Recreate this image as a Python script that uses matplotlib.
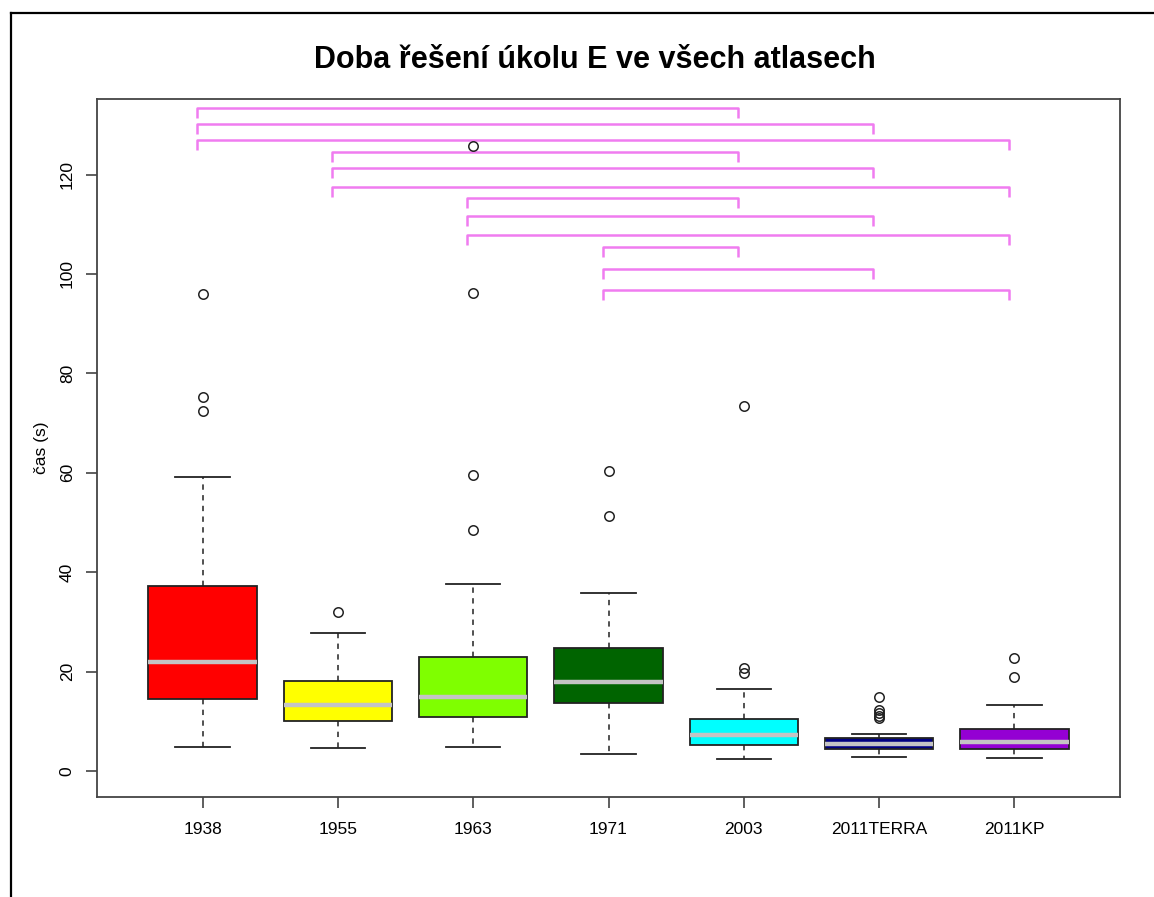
import matplotlib
matplotlib.use('Agg')
import matplotlib.pyplot as plt
from matplotlib.lines import Line2D

plt.rcParams['font.family'] = ['Liberation Sans', 'DejaVu Sans']

categories = ['1938', '1955', '1963', '1971', '2003', '2011TERRA', '2011KP']
box_colors = ['#FF0000', '#FFFF00', '#7FFF00', '#006400', '#00FFFF', '#000080', '#9400D3']
q1 = [14.5, 10.1, 10.9, 13.8, 5.2, 4.4, 4.5]
median = [22.0, 13.3, 15.0, 18.0, 7.3, 5.5, 5.9]
q3 = [37.3, 18.1, 23.0, 24.8, 10.4, 6.7, 8.5]
whisker_low = [4.9, 4.6, 4.85, 3.4, 2.4, 2.9, 2.6]
whisker_high = [59.2, 27.7, 37.6, 35.9, 16.5, 7.5, 13.4]
outliers = [
    [96.0, 75.2, 72.4],
    [32.1],
    [125.7, 96.1, 59.6, 48.6],
    [60.4, 51.3],
    [73.5, 20.8, 19.8],
    [15.0, 12.2, 11.6, 11.0, 10.6],
    [22.8, 19.0],
]
bracket_from = [1, 1, 1, 2, 2, 2, 3, 3, 3, 4, 4, 4]
bracket_to = [5, 6, 7, 5, 6, 7, 5, 6, 7, 5, 6, 7]
bracket_y = [133.4, 130.2, 127.0, 124.6, 121.4, 117.4, 115.3, 111.7, 107.9, 105.5, 101.0, 96.8]
yticks = [0, 20, 40, 60, 80, 100, 120]

W, H = 1154, 897
fig = plt.figure(figsize=(W / 100, H / 100), dpi=100)
ax = fig.add_axes([97 / W, 1 - 797 / H, (1120 - 97) / W, (797 - 99) / H])

stats = []
for i, c in enumerate(categories):
    stats.append(dict(label=c, q1=q1[i], med=median[i], q3=q3[i],
                      whislo=whisker_low[i], whishi=whisker_high[i],
                      fliers=outliers[i]))
positions = list(range(1, len(categories) + 1))
bp = ax.bxp(stats, positions=positions, widths=0.8, patch_artist=True,
            showfliers=True,
            boxprops=dict(edgecolor='#222222', linewidth=1.3),
            medianprops=dict(color='#C4C4C4', linewidth=3.2, solid_capstyle='butt'),
            whiskerprops=dict(color='#222222', linewidth=1.1, linestyle=(0, (3.5, 3.5))),
            capprops=dict(color='#222222', linewidth=1.3),
            flierprops=dict(marker='o', markerfacecolor='none', markeredgecolor='#222222',
                            markersize=6.8, markeredgewidth=1.1, linestyle='none'),
            capwidths=0.4)
for patch, col in zip(bp['boxes'], box_colors):
    patch.set_facecolor(col)

# significance brackets
off = -0.042
tick = 2.0
for a, b, y in zip(bracket_from, bracket_to, bracket_y):
    ax.plot([a + off, a + off, b + off, b + off], [y - tick, y, y, y - tick],
            color='#F07CF0', linewidth=1.8, solid_capstyle='butt', zorder=1)

ax.set_xlim(0.22, 7.78)
ax.set_ylim(-5.2, 135.2)
ax.set_xticks(positions)
ax.set_xticklabels(categories, fontsize=12.5)
ax.set_yticks(yticks)
ax.set_yticklabels([str(t) for t in yticks], fontsize=12.5, rotation=90, va='center')
ax.tick_params(axis='both', direction='out', length=8, width=1.1, color='#333333', pad=8)
ax.tick_params(axis='x', pad=10)
for s in ax.spines.values():
    s.set_color('#444444')
    s.set_linewidth(1.3)
ax.set_ylabel('čas (s)', fontsize=12.5, labelpad=8)

fig.text(595 / W, 1 - 60 / H, 'Doba řešení úkolu E ve všech atlasech',
         ha='center', va='center', fontsize=22, fontweight='bold')

# outer frame (left and top edges visible)
fig.add_artist(Line2D([11 / W, 11 / W], [0, 1 - 13 / H], transform=fig.transFigure,
                      color='black', linewidth=1.6))
fig.add_artist(Line2D([11 / W, 1], [1 - 13 / H, 1 - 13 / H], transform=fig.transFigure,
                      color='black', linewidth=1.6))

fig.savefig('out.png', dpi=100, facecolor='white')
